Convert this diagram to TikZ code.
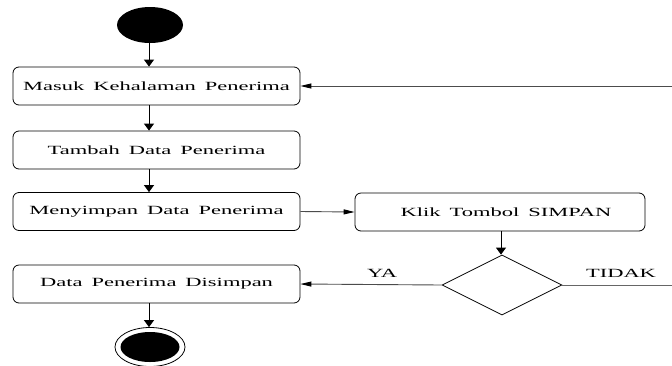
\documentclass[tikz,border=0pt]{standalone}
\usepackage{fontspec}
\setmainfont[WordSpace=1.6]{Liberation Serif}
\usetikzlibrary{shapes.geometric,arrows.meta}
\newcommand{\widetxt}[1]{\scalebox{1.8}[1]{#1}}
\tikzset{
  act/.style={draw=black, line width=0.8pt, rounded corners=6pt, rectangle,
    minimum width=287pt, minimum height=38pt, inner sep=0pt,
    font=\fontsize{12.5}{14}\selectfont},
  lbl/.style={font=\fontsize{12.5}{14}\selectfont, inner sep=0pt},
  vflow/.style={draw=black, line width=0.9pt, -{Triangle[length=7pt,width=10pt]}},
  hflow/.style={draw=black!70, line width=0.9pt, -{Triangle[length=11pt,width=5pt,fill=black,color=black]}},
  hline/.style={draw=black!60, line width=0.9pt},
}
\begin{document}
\begin{tikzpicture}[x=1pt,y=-1pt]
\useasboundingbox (0,0) rectangle (672,365);
\fill[white] (0,0) rectangle (672,365);

% initial and final states
\node[ellipse, fill=black, minimum width=66pt, minimum height=36pt, inner sep=0pt] (start) at (150,25) {};
\node[ellipse, draw=black, line width=0.8pt, minimum width=70pt, minimum height=39pt, inner sep=0pt] (stop) at (150,347) {};
\node[ellipse, fill=black, minimum width=59pt, minimum height=30pt, inner sep=0pt] (stopin) at (150,347) {};

% activities
\node[act] (masuk) at (156.5,86) {\widetxt{Masuk Kehalaman Penerima}};
\node[act] (tambah) at (156.5,150) {\widetxt{Tambah Data Penerima}};
\node[act] (simpan) at (156.5,211.5) {\widetxt{Menyimpan Data Penerima}};
\node[act] (disimpan) at (156.5,284) {\widetxt{Data Penerima Disimpan}};
\node[act, minimum width=290pt] (klik) at (500,212) {\hspace{12pt}\widetxt{Klik Tombol SIMPAN}};

% decision
\node[diamond, draw=black, line width=0.8pt, aspect=2, minimum width=120pt, minimum height=60pt, inner sep=0pt] (dec) at (502,285) {};

% guard labels
\node[lbl] (ya) at (382,273) {\widetxt{YA}};
\node[lbl] (tidak) at (621,273) {\widetxt{TIDAK}};

% flows
\draw[vflow] (start.south -| 149,0) -- (masuk.north -| 149,0);
\draw[vflow] (masuk.south -| 149,0) -- (tambah.north -| 149,0);
\draw[vflow] (tambah.south -| 149,0) -- (simpan.north -| 149,0);
\draw[vflow] (disimpan.south -| 149,0) -- (stop.north -| 149,0);
\draw[vflow] (klik.south -| 501,0) -- (dec.north -| 501,0);
\draw[hflow] (simpan.east) -- (klik.west);
\draw[hflow] (dec.west) -- (disimpan.east);

% loop back when not saved
\coordinate (turnlow) at (690,285);
\coordinate (turnhigh) at (690,86);
\draw[hline] (dec.east) -- (turnlow) -- (turnhigh);
\draw[hflow] (turnhigh) -- (masuk.east);
\end{tikzpicture}
\end{document}
